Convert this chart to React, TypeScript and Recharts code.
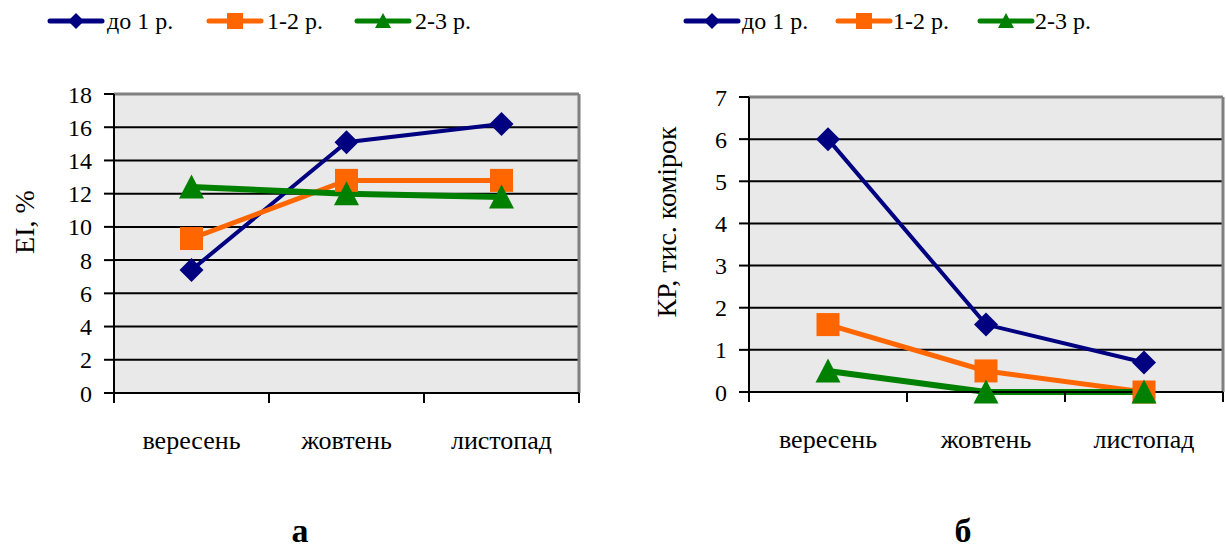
import React from "react"
import { LineChart, Line, XAxis, YAxis, CartesianGrid, ReferenceLine } from "recharts"

// ─── Data ─────────────────────────────────────────────────────────────────────

const categories = ["вересень", "жовтень", "листопад"]
const seriesNames = ["до 1 р.", "1-2 р.", "2-3 р."]

// panel а: EI, %
const eiUnder1 = [7.4, 15.1, 16.2]
const ei1to2 = [9.3, 12.8, 12.8]
const ei2to3 = [12.4, 12.0, 11.8]
const eiTicks = [0, 2, 4, 6, 8, 10, 12, 14, 16, 18]

// panel б: КР, тис. комірок
const krUnder1 = [6.0, 1.6, 0.7]
const kr1to2 = [1.6, 0.5, 0]
const kr2to3 = [0.5, 0, 0]
const krTicks = [0, 1, 2, 3, 4, 5, 6, 7]

// category slots on a numeric axis: boundaries carry tick marks, centres carry labels
const xTicks = [0, 0.5, 1, 1.5, 2, 2.5, 3]

// ─── Style ────────────────────────────────────────────────────────────────────

const NAVY = "#000080"
const ORANGE = "#FF6600"
const GREEN = "#008000"
const SERIF = "'Liberation Serif', 'Times New Roman', serif"
const COLORS = [NAVY, ORANGE, GREEN]
const WIDTHS = [4, 5, 6]

// ─── Markers ──────────────────────────────────────────────────────────────────

function Diamond({ cx, cy, r = 12 }: any) {
  if (cx == null || cy == null) return null
  return <polygon points={`${cx},${cy - r} ${cx + r},${cy} ${cx},${cy + r} ${cx - r},${cy}`} fill={NAVY} />
}

function Square({ cx, cy, r = 11.5 }: any) {
  if (cx == null || cy == null) return null
  return <rect x={cx - r} y={cy - r} width={r * 2} height={r * 2} fill={ORANGE} />
}

function Triangle({ cx, cy, r = 12.5 }: any) {
  if (cx == null || cy == null) return null
  return <polygon points={`${cx},${cy - r} ${cx + r},${cy + r - 1} ${cx - r},${cy + r - 1}`} fill={GREEN} />
}

const MARKERS = [Diamond, Square, Triangle]

// ─── Axis tick ────────────────────────────────────────────────────────────────

function XTick({ x, y, payload }: any) {
  const v = payload.value as number
  if (Number.isInteger(v)) {
    return <line x1={x} x2={x} y1={y} y2={y + 10} stroke="#000" strokeWidth={2} />
  }
  return (
    <text x={x} y={y + 56} textAnchor="middle" fontFamily={SERIF} fontSize={26} fill="#000">
      {categories[Math.floor(v)]}
    </text>
  )
}

// ─── Legend ───────────────────────────────────────────────────────────────────

function LegendRow({ items }: { items: { line: number; text: number }[] }) {
  return (
    <>
      {items.map((it, i) => {
        const M = MARKERS[i]
        return (
          <React.Fragment key={i}>
            <svg style={{ position: "absolute", left: it.line - 4, top: 9 }} width={62} height={24}>
              <line x1={4} x2={56} y1={12} y2={12} stroke={COLORS[i]} strokeWidth={5} strokeLinecap="round" />
              <M cx={30} cy={12} r={8} />
            </svg>
            <div style={{ position: "absolute", left: it.text, top: 6, fontFamily: SERIF, fontSize: 24, lineHeight: "30px", whiteSpace: "nowrap" }}>
              {seriesNames[i]}
            </div>
          </React.Fragment>
        )
      })}
    </>
  )
}

// ─── Panel ────────────────────────────────────────────────────────────────────

interface PanelProps {
  left: number
  width: number
  margin: { top: number; right: number; bottom: number; left: number }
  values: number[][]
  ticks: number[]
  yTitle: string
  yTitleX: number
  legend: { line: number; text: number }[]
  letter: string
  letterX: number
}

function Panel({ left, width, margin, values, ticks, yTitle, yTitleX, legend, letter, letterX }: PanelProps) {
  const data = categories.map((name, i) => ({
    pos: i + 0.5,
    name,
    s0: values[0][i],
    s1: values[1][i],
    s2: values[2][i],
  }))
  const yMax = ticks[ticks.length - 1]

  return (
    <div style={{ position: "absolute", left, top: 0, width, height: 549 }}>
      <LegendRow items={legend.map((l) => ({ line: l.line - left, text: l.text - left }))} />
      <div
        style={{
          position: "absolute",
          left: yTitleX - left - 150,
          top: 222 - 16,
          width: 300,
          height: 32,
          lineHeight: "32px",
          textAlign: "center",
          transform: "rotate(-90deg)",
          fontFamily: SERIF,
          fontSize: 28,
          whiteSpace: "nowrap",
        }}
      >
        {yTitle}
      </div>
      <div
        style={{
          position: "absolute",
          left: letterX - left - 20,
          top: 514,
          width: 40,
          textAlign: "center",
          fontFamily: SERIF,
          fontWeight: "bold",
          fontSize: 34,
          lineHeight: "34px",
        }}
      >
        {letter}
      </div>
      <div style={{ position: "absolute", left: 0, top: 0 }}>
        <LineChart width={width} height={549} data={data} margin={margin}>
          <CartesianGrid vertical={false} stroke="#000" strokeWidth={2} fill="#e9e9e9" fillOpacity={1} />
          <XAxis
            dataKey="pos"
            type="number"
            domain={[0, 3]}
            ticks={xTicks}
            interval={0}
            tick={<XTick />}
            tickLine={false}
            tickSize={0}
            tickMargin={0}
            height={60}
            axisLine={{ stroke: "#000", strokeWidth: 2 }}
          />
          <YAxis
            type="number"
            domain={[0, yMax]}
            ticks={ticks}
            interval={0}
            width={100}
            tickSize={10}
            tickMargin={12}
            tick={{ fontSize: 24, fontFamily: SERIF, fill: "#000" }}
            tickLine={{ stroke: "#000", strokeWidth: 2 }}
            axisLine={{ stroke: "#000", strokeWidth: 2 }}
          />
          <ReferenceLine y={yMax} stroke="#808080" strokeWidth={3} />
          <ReferenceLine x={3} stroke="#808080" strokeWidth={3} />
          {[0, 1, 2].map((i) => {
            const M = MARKERS[i]
            return (
              <Line
                key={i}
                type="linear"
                dataKey={`s${i}`}
                name={seriesNames[i]}
                stroke={COLORS[i]}
                strokeWidth={WIDTHS[i]}
                dot={(p: any) => <M key={`d${i}-${p.index}`} cx={p.cx} cy={p.cy} />}
                activeDot={false}
                isAnimationActive={false}
              />
            )
          })}
        </LineChart>
      </div>
    </div>
  )
}

export default function App() {
  return (
    <div style={{ position: "absolute", left: 0, top: 0, width: 1226, height: 549, background: "#fff", overflow: "hidden" }}>
      <Panel
        left={0}
        width={600}
        margin={{ top: 94, right: 21, bottom: 96, left: 14 }}
        values={[eiUnder1, ei1to2, ei2to3]}
        ticks={eiTicks}
        yTitle="EI, %"
        yTitleX={25}
        legend={[
          { line: 50, text: 107 },
          { line: 209, text: 267 },
          { line: 357, text: 415 },
        ]}
        letter="а"
        letterX={300}
      />
      <Panel
        left={600}
        width={626}
        margin={{ top: 97, right: 3, bottom: 97, left: 49 }}
        values={[krUnder1, kr1to2, kr2to3]}
        ticks={krTicks}
        yTitle="КР, тис. комірок"
        yTitleX={667}
        legend={[
          { line: 686, text: 742 },
          { line: 838, text: 893 },
          { line: 980, text: 1035 },
        ]}
        letter="б"
        letterX={963}
      />
    </div>
  )
}
